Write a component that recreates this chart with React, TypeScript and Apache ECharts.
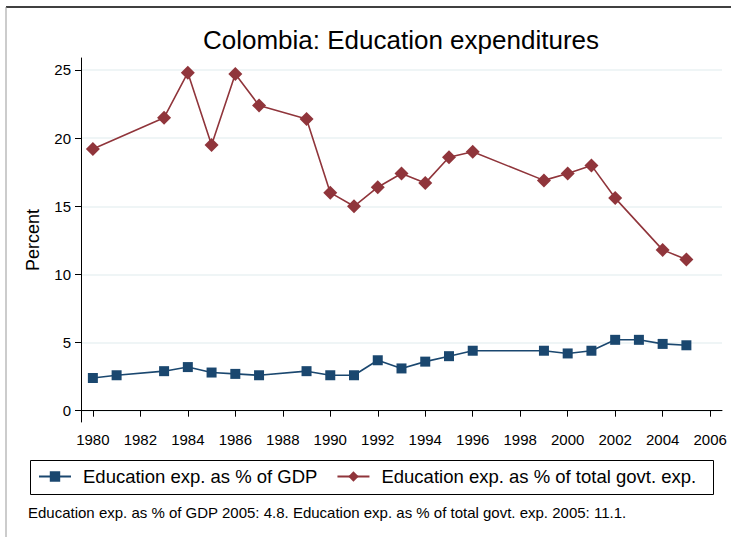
import React, { useEffect, useRef } from "react";
import * as echarts from "echarts";

const gdpYears = [1980, 1981, 1983, 1984, 1985, 1986, 1987, 1989, 1990, 1991, 1992, 1993, 1994, 1995, 1996, 1999, 2000, 2001, 2002, 2003, 2004, 2005];
const gdpValues = [2.4, 2.6, 2.9, 3.2, 2.8, 2.7, 2.6, 2.9, 2.6, 2.6, 3.7, 3.1, 3.6, 4.0, 4.4, 4.4, 4.2, 4.4, 5.2, 5.2, 4.9, 4.8];
const govYears = [1980, 1983, 1984, 1985, 1986, 1987, 1989, 1990, 1991, 1992, 1993, 1994, 1995, 1996, 1999, 2000, 2001, 2002, 2004, 2005];
const govValues = [19.2, 21.5, 24.8, 19.5, 24.7, 22.4, 21.4, 16.0, 15.0, 16.4, 17.4, 16.7, 18.6, 19.0, 16.9, 17.4, 18.0, 15.6, 11.8, 11.1];
const xTicks = [1980, 1982, 1984, 1986, 1988, 1990, 1992, 1994, 1996, 1998, 2000, 2002, 2004, 2006];
const yTicks = [0, 5, 10, 15, 20, 25];

const titleText = "Colombia: Education expenditures";
const gdpName = "Education exp. as % of GDP";
const govName = "Education exp. as % of total govt. exp.";
const noteText = "Education exp. as % of GDP 2005: 4.8. Education exp. as % of total govt. exp. 2005: 11.1.";

const FONT = "'Liberation Sans', Arial, Helvetica, sans-serif";

export default function App() {
  const ref = useRef<HTMLDivElement>(null);
  useEffect(() => {
    if (!ref.current) return;
    const chart = echarts.init(ref.current, undefined, { renderer: "svg" });
    const gdpData = gdpYears.map((y, i) => [y, gdpValues[i]]);
    const govData = govYears.map((y, i) => [y, govValues[i]]);
    chart.setOption({
      animation: false,
      backgroundColor: "#ffffff",
      textStyle: { fontFamily: FONT, color: "#000" },
      grid: { left: 81, right: 9, top: 58, bottom: 115, containLabel: false },
      xAxis: {
        type: "value",
        min: 1979.5,
        max: 2006.5,
        axisLine: { show: true, lineStyle: { color: "#000", width: 1 } },
        axisTick: { show: true, length: 6, lineStyle: { color: "#000" }, customValues: xTicks },
        axisLabel: { customValues: xTicks, fontSize: 15, color: "#000", margin: 10, fontFamily: FONT, formatter: (v: number) => String(v) },
        splitLine: { show: false },
      },
      yAxis: {
        type: "value",
        min: -0.83,
        max: 25.88,
        name: "Percent",
        nameLocation: "middle",
        nameRotate: 90,
        nameGap: 39,
        nameTextStyle: { fontSize: 18, color: "#000", fontFamily: FONT },
        axisLine: { show: true, lineStyle: { color: "#000", width: 1 } },
        axisTick: { show: true, length: 6, lineStyle: { color: "#000" }, customValues: yTicks },
        axisLabel: { customValues: yTicks, fontSize: 15, color: "#000", margin: 10, fontFamily: FONT },
        splitLine: { show: true, lineStyle: { color: "#eaf2f3", width: 1.5 } },
      },
      legend: {
        show: true,
        left: 38,
        top: 467,
        padding: 0,
        itemWidth: 32,
        itemHeight: 13,
        itemGap: 19,
        textStyle: { fontSize: 18.5, color: "#000", fontFamily: FONT, padding: [0, 0, 0, 7] },
        data: [gdpName, govName],
      },
      series: [
        {
          name: gdpName,
          type: "line",
          data: gdpData,
          symbol: "rect",
          symbolSize: 10,
          itemStyle: { color: "#1a476f" },
          lineStyle: { color: "#1a476f", width: 1.6 },
          z: 3,
        },
        {
          name: govName,
          type: "line",
          data: govData,
          symbol: "diamond",
          symbolSize: 14,
          itemStyle: { color: "#90353b" },
          lineStyle: { color: "#90353b", width: 1.6 },
          z: 3,
        },
      ],
      graphic: [
        { type: "line", shape: { x1: 6, y1: 7, x2: 731, y2: 7 }, style: { stroke: "#000", lineWidth: 1.5 } },
        { type: "line", shape: { x1: 6, y1: 7, x2: 6, y2: 537 }, style: { stroke: "#999", lineWidth: 1 } },
        {
          type: "text",
          x: 401,
          y: 40,
          style: { text: titleText, fontSize: 26, fill: "#000", fontFamily: FONT, align: "center", verticalAlign: "middle" },
        },
        { type: "rect", shape: { x: 30.5, y: 460.5, width: 683, height: 34 }, style: { fill: "none", stroke: "#000", lineWidth: 1 } },
        {
          type: "text",
          x: 28,
          y: 512,
          style: { text: noteText, fontSize: 15, fill: "#000", fontFamily: FONT, align: "left", verticalAlign: "middle" },
        },
      ],
    });
    return () => chart.dispose();
  }, []);
  return <div ref={ref} style={{ position: "fixed", left: 0, top: 0, width: 731, height: 537 }} />;
}
